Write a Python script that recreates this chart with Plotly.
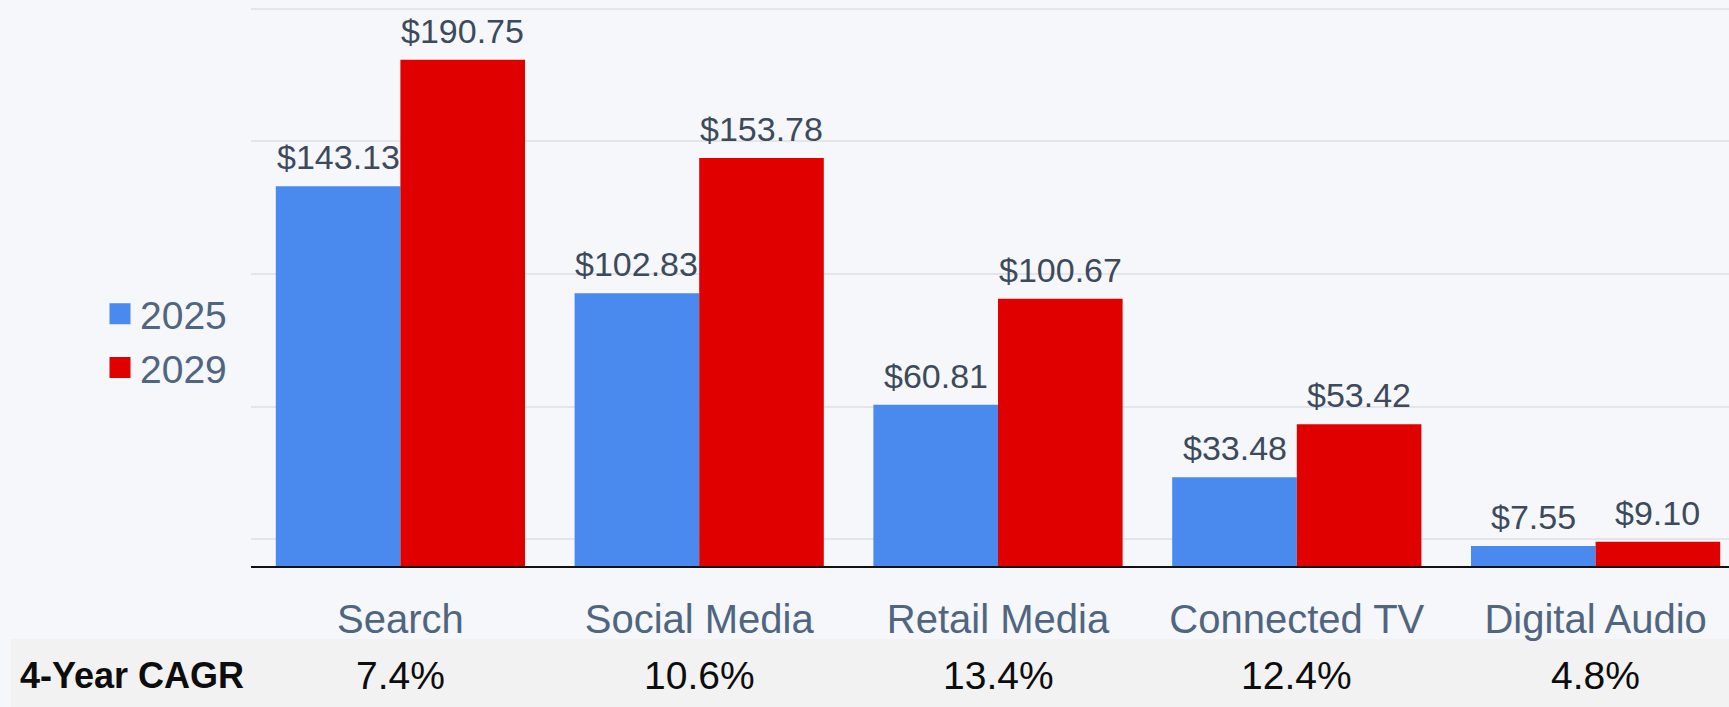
import plotly.graph_objects as go

categories = ["Search", "Social Media", "Retail Media", "Connected TV", "Digital Audio"]
series_names = ["2025", "2029"]
values_2025 = [143.13, 102.83, 60.81, 33.48, 7.55]
values_2029 = [190.75, 153.78, 100.67, 53.42, 9.10]
cagr_labels = ["7.4%", "10.6%", "13.4%", "12.4%", "4.8%"]
cagr_title = "4-Year CAGR"

BLUE = "#4a89ee"
RED = "#e00000"
BG = "#f5f7fa"
BAND = "#f2f2f2"
LABEL_COLOR = "#3c4a5c"
TICK_COLOR = "#506580"
FONT = "Liberation Sans, Arial, sans-serif"

W, H = 1729, 707
ML, MR, MT, MB = 251, 0, 0, 141
plot_w = W - ML - MR
plot_h = H - MT - MB
cat_px = 298.8
x_range = [-0.5, -0.5 + plot_w / cat_px]
y_range = [0, 213.3]
half_bar_px = cat_px * (1 - 0.166) / 4


def px_to_paper_x(px):
    return (px - ML) / plot_w


def px_to_paper_y(py):
    return (MT + plot_h - py) / plot_h


fig = go.Figure()
for name, vals, col in [(series_names[0], values_2025, BLUE), (series_names[1], values_2029, RED)]:
    fig.add_trace(go.Bar(
        x=categories, y=vals, name=name, marker=dict(color=col, line=dict(width=0)),
        showlegend=False, hoverinfo="x+y",
    ))
    # legend proxy
    fig.add_trace(go.Scatter(
        x=[None], y=[None], mode="markers", name=name,
        marker=dict(symbol="square", size=16, color=col, line=dict(color=col, width=5)),
        showlegend=True,
    ))

annotations = []
for vals, shift in [(values_2025, -half_bar_px), (values_2029, half_bar_px)]:
    for c, v in zip(categories, vals):
        annotations.append(dict(
            x=c, y=v, xref="x", yref="y", text=f"${v:.2f}", showarrow=False,
            xshift=shift, yanchor="bottom", yshift=8,
            font=dict(family=FONT, size=34, color=LABEL_COLOR),
        ))

cagr_y = px_to_paper_y(675)
annotations.append(dict(
    x=px_to_paper_x(18), y=cagr_y, xref="paper", yref="paper", text=f"<b>{cagr_title}</b>",
    showarrow=False, xanchor="left", yanchor="middle",
    font=dict(family=FONT, size=36, color="#0d0d0d"),
))
for c, t in zip(categories, cagr_labels):
    annotations.append(dict(
        x=c, y=cagr_y, xref="x", yref="paper", text=t, showarrow=False,
        xanchor="center", yanchor="middle",
        font=dict(family=FONT, size=39, color="#0d0d0d"),
    ))

shapes = [dict(
    type="rect", xref="paper", yref="paper", layer="below",
    x0=px_to_paper_x(11), x1=1.01, y0=px_to_paper_y(639), y1=px_to_paper_y(720),
    fillcolor=BAND, line=dict(width=0),
)]

fig.update_layout(
    width=W, height=H,
    margin=dict(l=ML, r=MR, t=MT, b=MB),
    paper_bgcolor=BG, plot_bgcolor=BG,
    barmode="group", bargap=0.166, bargroupgap=0,
    font=dict(family=FONT),
    xaxis=dict(
        range=x_range, showgrid=False, showline=True, linecolor="#111111", linewidth=2,
        ticks="", tickfont=dict(family=FONT, size=40, color=TICK_COLOR),
        ticklabelstandoff=17, zeroline=False, fixedrange=True,
    ),
    yaxis=dict(
        range=y_range, tick0=10, dtick=50, showgrid=True, gridcolor="#e3e5e9", gridwidth=2,
        showticklabels=False, zeroline=False, showline=False, ticks="", fixedrange=True,
    ),
    legend=dict(
        x=px_to_paper_x(100), xanchor="left", y=px_to_paper_y(341), yanchor="middle",
        font=dict(family=FONT, size=39, color=TICK_COLOR),
        bgcolor="rgba(0,0,0,0)", borderwidth=0, itemclick=False, itemdoubleclick=False,
    ),
    annotations=annotations,
    shapes=shapes,
)

fig.write_html(
    "out.html",
    config={"displayModeBar": False},
    post_script="document.body.style.margin='0';document.body.style.background='" + BG + "';",
)
